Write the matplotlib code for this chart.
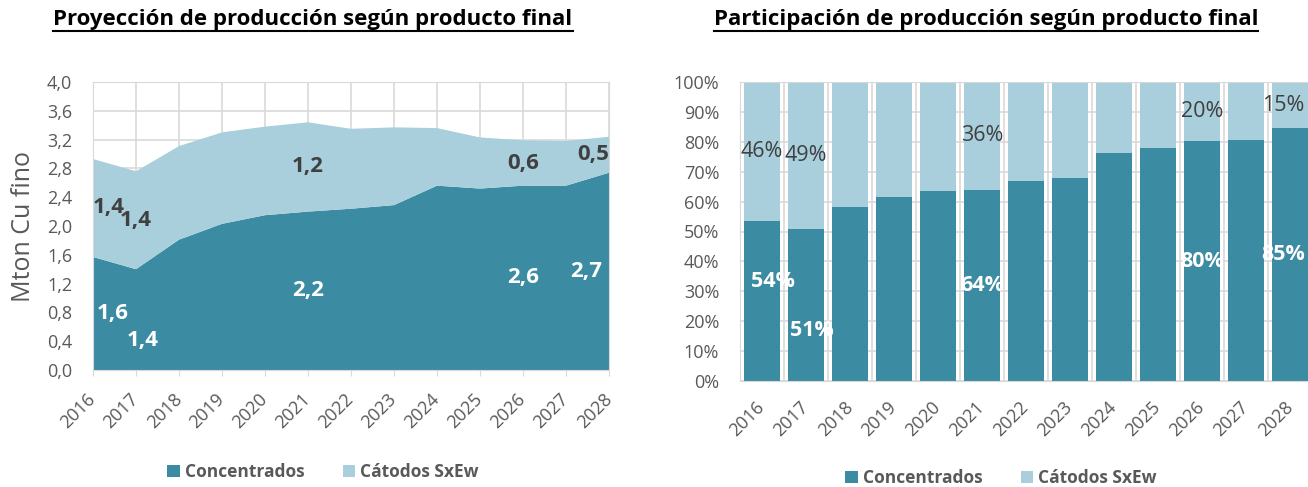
import numpy as np
import matplotlib.pyplot as plt
from matplotlib.patches import Patch
from matplotlib.lines import Line2D
from matplotlib.ticker import FuncFormatter, MultipleLocator

plt.rcParams['font.family'] = ['Open Sans', 'DejaVu Sans']

years = [2016, 2017, 2018, 2019, 2020, 2021, 2022, 2023, 2024, 2025, 2026, 2027, 2028]
concentrados = [1.57, 1.40, 1.81, 2.03, 2.15, 2.20, 2.24, 2.29, 2.56, 2.52, 2.56, 2.56, 2.74]
catodos = [1.36, 1.36, 1.30, 1.27, 1.23, 1.24, 1.11, 1.08, 0.80, 0.71, 0.63, 0.62, 0.50]
labeled_years = [2016, 2017, 2021, 2026, 2028]
series_names = ['Concentrados', 'Cátodos SxEw']

dark = '#3B8BA2'
light = '#A9CEDC'
grid_c = '#D9D9D9'
txt_c = '#595959'

W, H = 1308, 487
fig = plt.figure(figsize=(W / 100, H / 100), dpi=100)

def px_box(x0, x1, ytop, ybot):
    return [x0 / W, 1 - ybot / H, (x1 - x0) / W, (ybot - ytop) / H]

x = np.arange(len(years))
conc = np.array(concentrados)
cath = np.array(catodos)

# ---- left: stacked area
ax = fig.add_axes(px_box(93, 609, 82, 370))
ax.stackplot(x, conc, cath, colors=[dark, light], linewidth=0)
ax.set_xlim(0, len(years) - 1)
ax.set_ylim(0, 4)
ax.set_axisbelow(True)
ax.grid(True, color=grid_c, lw=1.2)
ax.set_xticks(x)
ax.set_xticklabels(years, rotation=45, ha='right', va='center', rotation_mode='anchor')
ax.yaxis.set_major_locator(MultipleLocator(0.4))
ax.yaxis.set_major_formatter(FuncFormatter(lambda v, p: f'{v:.1f}'.replace('.', ',')))
ax.tick_params(axis='x', length=4, color=grid_c, labelcolor=txt_c, labelsize=13, pad=15)
ax.tick_params(axis='y', length=0, labelcolor=txt_c, labelsize=13, pad=15)
for s in ax.spines.values():
    s.set_color(grid_c)
ax.set_ylabel('Mton Cu fino', color=txt_c, fontsize=18, labelpad=8)

lab_off = {(0, 0): (3, 0), (1, 0): (5, -15), (12, 0): (-5, 0), (12, 1): (0, 0)}
for i, yr in enumerate(years):
    if yr not in labeled_years:
        continue
    ha = 'left' if i == 0 else ('right' if i == len(years) - 1 else 'center')
    for k, (v, base, col) in enumerate([(conc[i], 0, 'white'), (cath[i], conc[i], '#404040')]):
        dx, dy = lab_off.get((i, k), (0, 0))
        ax.annotate(f'{v:.1f}'.replace('.', ','), (i, base + v / 2), xytext=(dx, dy),
                    textcoords='offset points', ha=ha, va='center', color=col,
                    fontsize=16, fontweight='bold')

# ---- right: 100% stacked bars
tot = conc + cath
conc_sh = conc / tot * 100
cath_sh = cath / tot * 100
ax2 = fig.add_axes(px_box(740, 1312, 82, 381))
ax2.bar(x, conc_sh, width=0.83, color=dark, zorder=2)
ax2.bar(x, cath_sh, bottom=conc_sh, width=0.83, color=light, zorder=2)
ax2.set_xlim(-0.5, len(years) - 0.5)
ax2.set_ylim(0, 100)
ax2.set_axisbelow(True)
ax2.yaxis.set_major_locator(MultipleLocator(10))
ax2.yaxis.set_major_formatter(FuncFormatter(lambda v, p: f'{v:.0f}%'))
ax2.set_xticks(x)
ax2.set_xticklabels(years, rotation=45, ha='right', va='center', rotation_mode='anchor')
ax2.set_xticks(x[:-1] + 0.5, minor=True)
ax2.grid(True, axis='y', color=grid_c, lw=1.2)
ax2.grid(True, axis='x', which='minor', color=grid_c, lw=1.2)
ax2.tick_params(axis='x', which='both', length=0, labelcolor=txt_c, labelsize=13, pad=17)
ax2.tick_params(axis='y', length=0, labelcolor=txt_c, labelsize=13, pad=15)
for s in ax2.spines.values():
    s.set_color(grid_c)

lab_off2 = {(0, 0): (8, 14), (1, 0): (4, -18), (12, 0): (-5, 0), (12, 1): (-5, 0)}
for i, yr in enumerate(years):
    if yr not in labeled_years:
        continue
    items = [(conc_sh[i], 0, 'white', 'bold'), (cath_sh[i], conc_sh[i], '#404040', 'normal')]
    for k, (v, base, col, fw) in enumerate(items):
        dx, dy = lab_off2.get((i, k), (0, 0))
        ax2.annotate(f'{v:.0f}%', (i, base + v / 2), xytext=(dx, dy),
                     textcoords='offset points', ha='center', va='center', color=col,
                     fontsize=15.5, fontweight=fw, zorder=5)

# ---- titles with underline
titles = [
    fig.text(313 / W, 1 - 20 / H, 'Proyección de producción según producto final',
             ha='center', va='center', fontsize=16, fontweight='bold', color='black'),
    fig.text(986 / W, 1 - 20 / H, 'Participación de producción según producto final',
             ha='center', va='center', fontsize=16, fontweight='bold', color='black'),
]

# ---- legends
handles = [Patch(facecolor=dark), Patch(facecolor=light)]
for cx, cy in [(323, 472), (1001, 478)]:
    fig.legend(handles, series_names, loc='center', bbox_to_anchor=(cx / W, 1 - cy / H),
               ncol=2, frameon=False, handlelength=0.7, handleheight=0.7,
               handletextpad=0.3, columnspacing=2.2,
               prop={'weight': 'bold', 'size': 12.5}, labelcolor=txt_c)

fig.canvas.draw()
r = fig.canvas.get_renderer()
yu = 1 - 31 / H
for t in titles:
    bb = t.get_window_extent(r).transformed(fig.transFigure.inverted())
    fig.add_artist(Line2D([bb.x0, bb.x1], [yu, yu], transform=fig.transFigure,
                          color='black', lw=1.5))

fig.savefig('out.png', dpi=100)
